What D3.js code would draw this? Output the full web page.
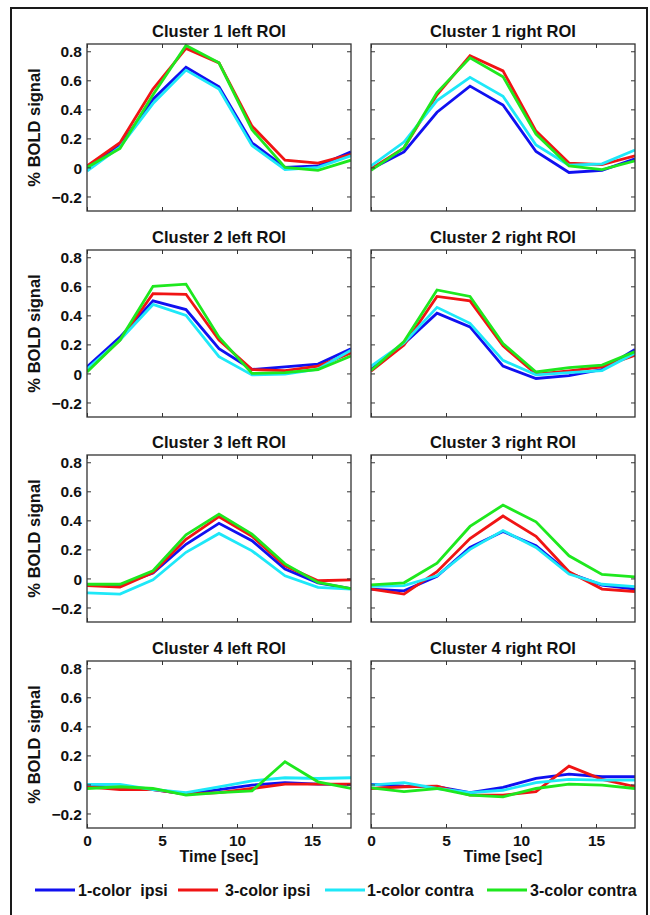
<!DOCTYPE html>
<html>
<head>
<meta charset="utf-8">
<script src="https://cdn.jsdelivr.net/npm/d3@7"></script>
<style>
  body { margin: 0; background: #fff; }
  text { font-family: "Liberation Sans", Arial, Helvetica, sans-serif; font-weight: bold; fill: #111; }
</style>
</head>
<body>
<div id="chart"></div>
<script>
// time points (TR = 2.2 s)
var times = [0, 2.2, 4.4, 6.6, 8.8, 11, 13.2, 15.4, 17.6];

var seriesNames = ['1-color  ipsi', '3-color ipsi', '1-color contra', '3-color contra'];
var seriesColors = ['#1010f0', '#f01414', '#1ee8f8', '#1ee81e'];

var yTicks = [-0.2, 0, 0.2, 0.4, 0.6, 0.8];
var xTicks = [0, 5, 10, 15];

// each panel: [1-color ipsi, 3-color ipsi, 1-color contra, 3-color contra]
var c1Left = [
    [0.00, 0.15, 0.47, 0.69, 0.555, 0.17, 0.00, 0.01, 0.107],
    [0.01, 0.17, 0.54, 0.82, 0.72, 0.285, 0.05, 0.03, 0.09],
    [-0.025, 0.14, 0.44, 0.67, 0.54, 0.15, -0.015, 0.00, 0.08],
    [0.00, 0.13, 0.50, 0.84, 0.72, 0.26, 0.00, -0.02, 0.05]
];
var c1Right = [
    [-0.01, 0.107, 0.38, 0.56, 0.43, 0.11, -0.035, -0.02, 0.06],
    [-0.01, 0.135, 0.50, 0.77, 0.665, 0.25, 0.03, 0.02, 0.08],
    [0.01, 0.175, 0.46, 0.62, 0.49, 0.155, 0.015, 0.025, 0.12],
    [-0.02, 0.135, 0.515, 0.755, 0.625, 0.23, 0.01, -0.015, 0.045]
];
var c2Left = [
    [0.045, 0.25, 0.50, 0.44, 0.17, 0.027, 0.045, 0.064, 0.17],
    [0.02, 0.23, 0.55, 0.545, 0.23, 0.027, 0.02, 0.05, 0.14],
    [0.03, 0.23, 0.475, 0.40, 0.115, -0.01, -0.005, 0.03, 0.16],
    [0.01, 0.23, 0.60, 0.615, 0.25, 0.00, 0.005, 0.027, 0.12]
];
var c2Right = [
    [0.027, 0.205, 0.415, 0.32, 0.05, -0.035, -0.015, 0.027, 0.165],
    [0.015, 0.195, 0.53, 0.50, 0.19, -0.005, 0.018, 0.045, 0.125],
    [0.05, 0.21, 0.455, 0.345, 0.09, -0.01, 0.005, 0.02, 0.14],
    [0.02, 0.22, 0.575, 0.53, 0.205, 0.01, 0.04, 0.057, 0.15]
];
var c3Left = [
    [-0.045, -0.045, 0.037, 0.235, 0.38, 0.26, 0.065, -0.03, -0.07],
    [-0.05, -0.06, 0.04, 0.27, 0.425, 0.29, 0.087, -0.016, -0.01],
    [-0.10, -0.108, -0.01, 0.18, 0.31, 0.19, 0.018, -0.062, -0.073],
    [-0.04, -0.04, 0.053, 0.30, 0.443, 0.305, 0.10, -0.028, -0.07]
];
var c3Right = [
    [-0.073, -0.085, 0.014, 0.213, 0.323, 0.225, 0.037, -0.046, -0.073],
    [-0.073, -0.108, 0.046, 0.275, 0.43, 0.29, 0.046, -0.073, -0.09],
    [-0.055, -0.05, 0.018, 0.20, 0.33, 0.213, 0.03, -0.04, -0.057],
    [-0.045, -0.03, 0.105, 0.358, 0.505, 0.39, 0.156, 0.028, 0.011]
];
var c4Left = [
    [-0.012, -0.02, -0.035, -0.067, -0.035, -0.005, 0.012, 0.002, 0.00],
    [-0.016, -0.035, -0.035, -0.067, -0.057, -0.028, 0.002, 0.002, 0.002],
    [0.00, 0.00, -0.035, -0.057, -0.016, 0.025, 0.046, 0.041, 0.046],
    [-0.028, -0.016, -0.028, -0.074, -0.057, -0.044, 0.156, 0.018, -0.028]
];
var c4Right = [
    [0.00, -0.012, -0.016, -0.057, -0.02, 0.041, 0.071, 0.053, 0.053],
    [-0.028, -0.016, -0.012, -0.074, -0.074, -0.05, 0.126, 0.035, -0.016],
    [-0.005, 0.012, -0.028, -0.057, -0.04, 0.012, 0.035, 0.03, 0.03],
    [-0.023, -0.05, -0.028, -0.074, -0.085, -0.028, 0.002, -0.005, -0.028]
];

var panelTitles = [
    'Cluster 1 left ROI', 'Cluster 1 right ROI',
    'Cluster 2 left ROI', 'Cluster 2 right ROI',
    'Cluster 3 left ROI', 'Cluster 3 right ROI',
    'Cluster 4 left ROI', 'Cluster 4 right ROI'
];
var panelData = [c1Left, c1Right, c2Left, c2Right, c3Left, c3Right, c4Left, c4Right];

// LAYOUT
// ----------------------------------------------------------------
var _width = 650,
    _height = 915,
    _colLeft = [87, 371],
    _rowTop = [44, 250, 455, 661],
    _plotW = 264,
    _plotH = 167,
    _tickLen = 4;

var svg = d3.select('#chart').append('svg')
    .attr('width', _width)
    .attr('height', _height);

svg.append('rect')
    .attr('x', 11).attr('y', 8)
    .attr('width', 636).attr('height', 920)
    .attr('fill', 'none')
    .attr('stroke', '#1a1a1a')
    .attr('stroke-width', 2);

var x = d3.scaleLinear().domain([0, 17.6]).range([0, _plotW]);
var y = d3.scaleLinear().domain([-0.3, 0.85]).range([_plotH, 0]);

var line = d3.line()
    .x(function (d, i) { return x(times[i]); })
    .y(function (d) { return y(d); });

var fmt = function (v) {
    if (v === 0) { return '0'; }
    return (v < 0 ? '\u2212' : '') + Math.abs(v).toFixed(1);
};
var blank = function () { return ''; };

panelData.forEach(function (data, p) {
    var col = p % 2,
        row = Math.floor(p / 2);

    var g = svg.append('g')
        .attr('transform', 'translate(' + _colLeft[col] + ',' + _rowTop[row] + ')');

    g.append('text')
        .attr('x', _plotW / 2)
        .attr('y', -7)
        .attr('text-anchor', 'middle')
        .style('font-size', '16.5px')
        .text(panelTitles[p]);

    // clip lines to the axes box
    g.append('clipPath').attr('id', 'clip-' + p)
        .append('rect').attr('width', _plotW).attr('height', _plotH);

    var gLines = g.append('g').attr('clip-path', 'url(#clip-' + p + ')');
    data.forEach(function (s, k) {
        gLines.append('path')
            .datum(s)
            .attr('d', line)
            .attr('fill', 'none')
            .attr('stroke', seriesColors[k])
            .attr('stroke-width', 2.8)
            .attr('stroke-linejoin', 'miter');
    });

    // inward ticks on all four sides
    var gAxisL = g.append('g').call(d3.axisLeft(y).tickValues(yTicks).tickSizeInner(-_tickLen).tickSizeOuter(0)
        .tickFormat(col === 0 ? fmt : blank));
    var gAxisR = g.append('g').attr('transform', 'translate(' + _plotW + ',0)')
        .call(d3.axisRight(y).tickValues(yTicks).tickSizeInner(-_tickLen).tickSizeOuter(0).tickFormat(blank));
    var gAxisT = g.append('g')
        .call(d3.axisTop(x).tickValues(xTicks).tickSizeInner(-_tickLen).tickSizeOuter(0).tickFormat(blank));
    var gAxisB = g.append('g').attr('transform', 'translate(0,' + _plotH + ')')
        .call(d3.axisBottom(x).tickValues(xTicks).tickSizeInner(-_tickLen).tickSizeOuter(0)
            .tickFormat(row === 3 ? d3.format('d') : blank));

    [gAxisL, gAxisR, gAxisT, gAxisB].forEach(function (a) {
        a.select('.domain').remove();
        a.selectAll('line').attr('stroke', '#333').attr('stroke-width', 1);
        a.selectAll('text').attr('fill', '#111').style('font-size', '15.5px').style('font-family', null);
    });
    gAxisL.selectAll('text').attr('x', -5).attr('dy', '0.36em');
    gAxisB.selectAll('text').attr('y', 7).attr('dy', '0.71em');

    g.append('rect')
        .attr('width', _plotW).attr('height', _plotH)
        .attr('fill', 'none')
        .attr('stroke', '#333')
        .attr('stroke-width', 1.3);

    if (col === 0) {
        g.append('text')
            .attr('transform', 'translate(-47,' + (_plotH / 2) + ') rotate(-90)')
            .attr('text-anchor', 'middle')
            .style('font-size', '16.5px')
            .text('% BOLD signal');
    }
    if (row === 3) {
        g.append('text')
            .attr('x', _plotW / 2)
            .attr('y', _plotH + 34)
            .attr('text-anchor', 'middle')
            .style('font-size', '16px')
            .text('Time [sec]');
    }
});

// LEGEND
// ----------------------------------------------------------------
var legendLineX = [35, 178, 325, 487];
var legendTextX = [78, 225, 367, 530];
var gLegend = svg.append('g').attr('transform', 'translate(0,890)');
seriesNames.forEach(function (name, k) {
    gLegend.append('line')
        .attr('x1', legendLineX[k]).attr('x2', legendLineX[k] + 40)
        .attr('stroke', seriesColors[k])
        .attr('stroke-width', 2.8);
    gLegend.append('text')
        .attr('x', legendTextX[k])
        .attr('y', 6)
        .style('font-size', '16px')
        .style('white-space', 'pre')
        .attr('xml:space', 'preserve')
        .text(name);
});
</script>
</body>
</html>
